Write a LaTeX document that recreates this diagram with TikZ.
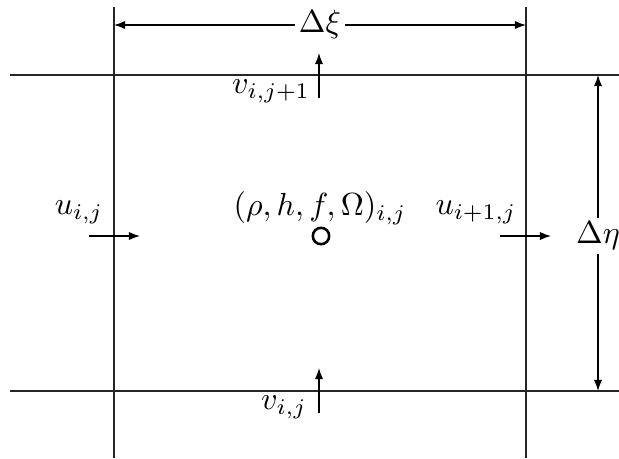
\documentclass[tikz,border=0pt]{standalone}
\usepackage{amsmath}
\usepackage{tikz}
\usetikzlibrary{arrows.meta, positioning, calc}
\tikzset{
  gridline/.style={line width=0.7pt, color=black!85},
  dimline/.style={-{Latex[length=3.5pt, width=2.6pt]}, line width=0.4pt},
  flux/.style={-{Latex[length=3.5pt, width=2.6pt]}, line width=0.4pt},
  lbl/.style={inner sep=1pt},
  cell/.style={circle, draw, line width=0.8pt, minimum size=0.18cm, inner sep=0pt}
}
\begin{document}
\begin{tikzpicture}[x=0.011cm, y=-0.011cm]
  \useasboundingbox (0,0) rectangle (619,458);

  % Grid lines
  \coordinate (wt) at (114,7);   \coordinate (wb) at (114,458);
  \coordinate (et) at (526,7);   \coordinate (eb) at (526,458);
  \coordinate (nl) at (10,75);   \coordinate (nr) at (619,75);
  \coordinate (sl) at (10,391);  \coordinate (sr) at (619,391);
  \draw[gridline] (wt) -- (wb);
  \draw[gridline] (et) -- (eb);
  \draw[gridline] (nl) -- (nr);
  \draw[gridline] (sl) -- (sr);

  % Cell spacing
  \node[lbl] (dxi) at (320,25) {$\Delta\xi$};
  \coordinate (dxw) at (114,25);
  \coordinate (dxe) at (526,25);
  \draw[dimline] (dxi) -- (dxw);
  \draw[dimline] (dxi) -- (dxe);

  \node[lbl] (deta) at (598,236) {$\Delta\eta$};
  \coordinate (den) at (598,75);
  \coordinate (des) at (598,391);
  \draw[dimline] (deta) -- (den);
  \draw[dimline] (deta) -- (des);

  % Cell centre
  \node[cell] (c) at (321,236) {};
  \node[lbl] (state) at (320,208) {$(\rho,h,f,\Omega)_{i,j}$};

  % Face velocities
  \coordinate (vnt) at (319,98);  \coordinate (vnh) at (319,53);
  \draw[flux] (vnt) -- (vnh);
  \node[lbl] (vn) at (271,91) {$v_{i,j+1}$};

  \coordinate (vst) at (319,413); \coordinate (vsh) at (319,368);
  \draw[flux] (vst) -- (vsh);
  \node[lbl] (vs) at (284,407) {$v_{i,j}$};

  \coordinate (uwt) at (89,236);  \coordinate (uwh) at (140,236);
  \draw[flux] (uwt) -- (uwh);
  \node[lbl] (uw) at (79,212) {$u_{i,j}$};

  \coordinate (uet) at (500,236); \coordinate (ueh) at (551,236);
  \draw[flux] (uet) -- (ueh);
  \node[lbl] (ue) at (476,212) {$u_{i+1,j}$};
\end{tikzpicture}
\end{document}
